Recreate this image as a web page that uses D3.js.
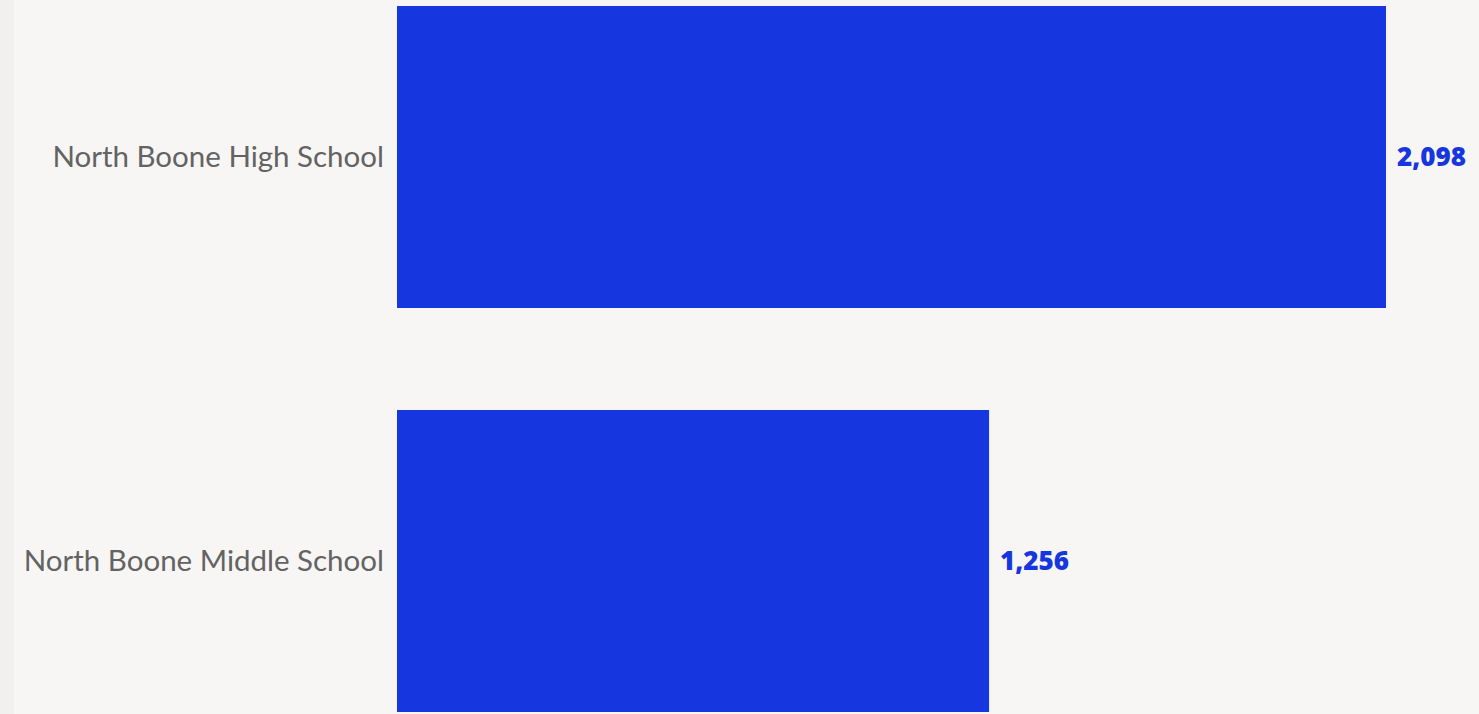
<!DOCTYPE html>
<html lang="en">
<head>
  <meta charset="UTF-8" />
  <title>North Boone enrollment</title>
  <script src="https://d3js.org/d3.v7.min.js"></script>
  <style>
    html, body {
      margin: 0;
      padding: 0;
      background: #f7f6f4;
      overflow: hidden;
    }
    svg { display: block; }
  </style>
</head>
<body>

<svg width="1479" height="714"></svg>

<script>
  const schools = ["North Boone High School", "North Boone Middle School"];
  const students = [2098, 1256];

  const svg = d3.select("svg");
  const width = +svg.attr("width");
  const height = +svg.attr("height");
  const margin = { top: 6, left: 397 };
  const step = 404, gap = 102;

  // slightly darker strip on the left edge
  svg.append("rect")
    .attr("x", 0).attr("y", 0)
    .attr("width", 14).attr("height", height)
    .attr("fill", "#f1f0ee");

  const x = d3.scaleLinear()
    .domain([0, d3.max(students)])
    .range([0, 989]);

  const y = d3.scaleBand()
    .domain(schools)
    .range([0, step * schools.length - gap])
    .paddingInner(gap / step)
    .paddingOuter(0);

  const g = svg.append("g")
    .attr("transform", `translate(${margin.left},${margin.top})`);

  const rows = schools.map((s, i) => ({ name: s, value: students[i] }));

  g.selectAll("rect.bar")
    .data(rows)
    .enter()
    .append("rect")
    .attr("class", "bar")
    .attr("x", 0)
    .attr("y", d => y(d.name))
    .attr("width", d => x(d.value))
    .attr("height", y.bandwidth())
    .attr("fill", "#1636e0");

  // category labels
  g.selectAll("text.label")
    .data(rows)
    .enter()
    .append("text")
    .attr("class", "label")
    .attr("x", -13)
    .attr("y", d => y(d.name) + y.bandwidth() / 2)
    .attr("dy", "0.35em")
    .attr("text-anchor", "end")
    .attr("fill", "#636363")
    .style("font-family", "Lato, 'Open Sans', sans-serif")
    .style("font-size", "29.5px")
    .text(d => d.name);

  // value labels
  g.selectAll("text.value")
    .data(rows)
    .enter()
    .append("text")
    .attr("class", "value")
    .attr("x", d => x(d.value) + 11)
    .attr("y", d => y(d.name) + y.bandwidth() / 2)
    .attr("dy", "0.35em")
    .attr("fill", "#1636e0")
    .style("font-family", "'Open Sans', Lato, sans-serif")
    .style("font-weight", "800")
    .style("font-size", "26px")
    .text(d => d3.format(",")(d.value));
</script>

</body>
</html>
